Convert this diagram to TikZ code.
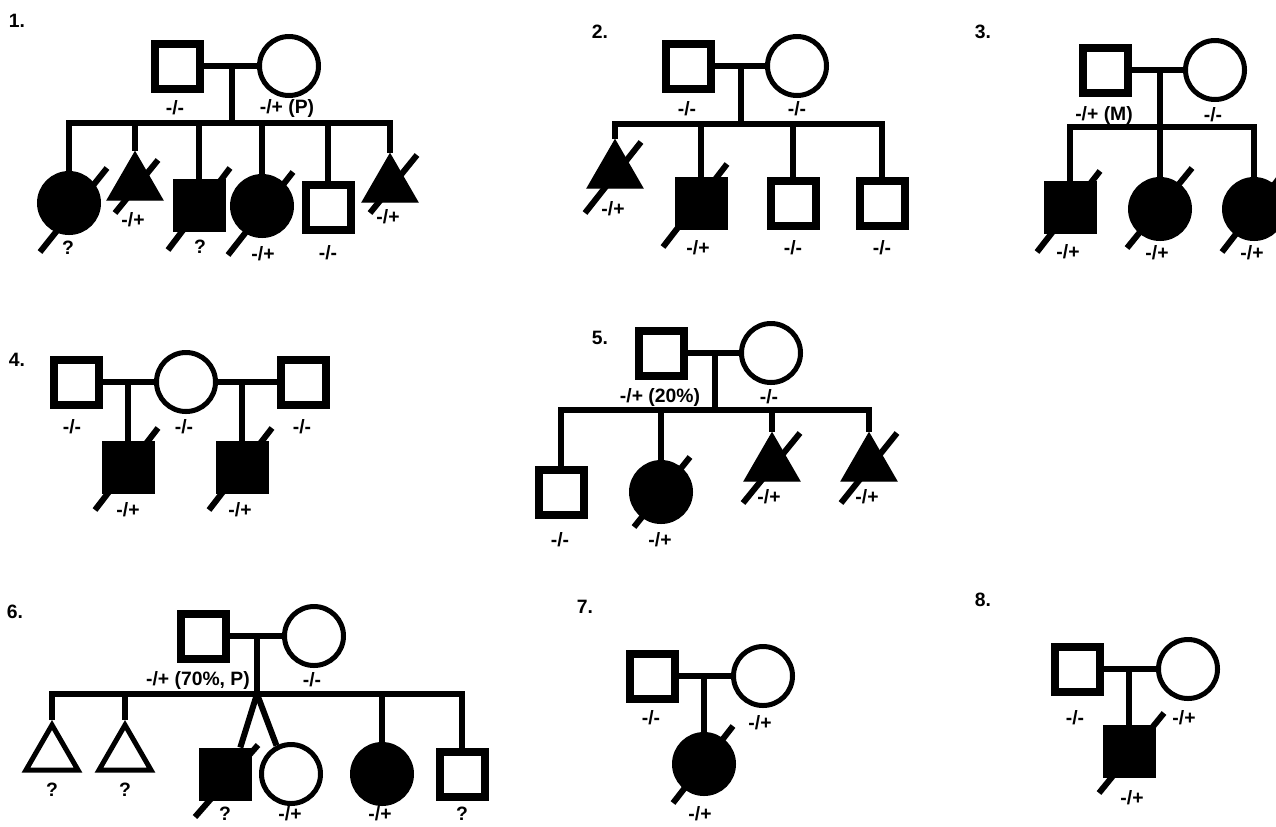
\documentclass[tikz,border=0pt]{standalone}
\usepackage{fontspec}
\setmainfont{Liberation Sans}
\usetikzlibrary{shapes.geometric}

\begin{document}
\begin{tikzpicture}[x=0.75pt,y=-0.75pt,line width=4.5pt,
  ma/.style={draw,rectangle,line width=6pt,minimum size=33.75pt,inner sep=0pt},
  fe/.style={draw,circle,line width=3.75pt,minimum size=44.25pt,inner sep=0pt},
  un/.style={draw,regular polygon,regular polygon sides=3,minimum size=48pt,inner sep=0pt,line width=1pt},
  unopen/.style={draw,regular polygon,regular polygon sides=3,minimum size=45pt,inner sep=0pt,line width=3.75pt},
  aff/.style={fill=black},
  gt/.style={font=\bfseries\fontsize{14.5}{16}\selectfont,inner sep=0pt},
  sl/.style={line width=4.5pt}]
\useasboundingbox (0,0) rectangle (1276,826);

\node (n1) at (17,21) [gt] {1.};
\node (f1) at (177,66) [ma] {};
\node (m1) at (289,66) [fe] {};
\coordinate (u1) at (232,66);
\coordinate (j1) at (232,123);
\draw (f1) -- (m1);
\draw (u1) -- (j1);
\node (c11) at (69,203) [fe,aff] {};
\node (c12) at (135,184) [un,aff] {};
\node (c13) at (199,205) [ma,aff] {};
\node (c14) at (262,206) [fe,aff] {};
\node (c15) at (328,207) [ma] {};
\node (c16) at (390,186) [un,aff] {};
\draw (c11) |- (j1) -| (c16);
\draw (c12 |- j1) -- (c12);
\draw (c13 |- j1) -- (c13);
\draw (c14 |- j1) -- (c14);
\draw (c15 |- j1) -- (c15);
\draw[sl] ([shift={(-29,49)}]c11.center) -- ([shift={(38,-35)}]c11.center);
\draw[sl] ([shift={(-20,29)}]c12.center) -- ([shift={(23,-24)}]c12.center);
\draw[sl] ([shift={(-31,45)}]c13.center) -- ([shift={(31,-37)}]c13.center);
\draw[sl] ([shift={(-34,49)}]c14.center) -- ([shift={(31,-34)}]c14.center);
\draw[sl] ([shift={(-20,27)}]c16.center) -- ([shift={(27,-31)}]c16.center);
\node (g1f) at (175,108) [gt] {-/-};
\node (g1m) at (287,108) [gt] {-/+ (P)};
\node (g11) at (68,248) [gt] {?};
\node (g12) at (133,220) [gt] {-/+};
\node (g13) at (200,247) [gt] {?};
\node (g14) at (263,254) [gt] {-/+};
\node (g15) at (328,253) [gt] {-/-};
\node (g16) at (388,217) [gt] {-/+};

\node (n2) at (600,32) [gt] {2.};
\node (f2) at (688,66) [ma] {};
\node (m2) at (797,66) [fe] {};
\coordinate (u2) at (741,66);
\coordinate (j2) at (741,124);
\draw (f2) -- (m2);
\draw (u2) -- (j2);
\node (c21) at (615,172) [un,aff] {};
\node (c22) at (701,203) [ma,aff] {};
\node (c23) at (793,203) [ma] {};
\node (c24) at (882,203) [ma] {};
\draw (c21) |- (j2) -| (c24);
\draw (c22 |- j2) -- (c22);
\draw (c23 |- j2) -- (c23);
\draw[sl] ([shift={(-30,41)}]c21.center) -- ([shift={(26,-30)}]c21.center);
\draw[sl] ([shift={(-38,44)}]c22.center) -- ([shift={(26,-39)}]c22.center);
\node (g2f) at (687,109) [gt] {-/-};
\node (g2m) at (797,109) [gt] {-/-};
\node (g21) at (613,209) [gt] {-/+};
\node (g22) at (698,248) [gt] {-/+};
\node (g23) at (793,248) [gt] {-/-};
\node (g24) at (882,248) [gt] {-/-};

\node (n3) at (983,32) [gt] {3.};
\node (f3) at (1105,70) [ma] {};
\node (m3) at (1215,70) [fe] {};
\coordinate (u3) at (1160,70);
\coordinate (j3) at (1160,127);
\draw (f3) -- (m3);
\draw (u3) -- (j3);
\node (c31) at (1070,207) [ma,aff] {};
\node (c32) at (1160,209) [fe,aff] {};
\node (c33) at (1254,209) [fe,aff] {};
\draw (c31) |- (j3) -| (c33);
\draw (c32 |- j3) -- (c32);
\draw[sl] ([shift={(-33,45)}]c31.center) -- ([shift={(30,-36)}]c31.center);
\draw[sl] ([shift={(-33,39)}]c32.center) -- ([shift={(32,-41)}]c32.center);
\draw[sl] ([shift={(-32,43)}]c33.center) -- ([shift={(33,-41)}]c33.center);
\node (g3f) at (1104,115) [gt] {-/+ (M)};
\node (g3m) at (1213,115) [gt] {-/-};
\node (g31) at (1068,252) [gt] {-/+};
\node (g32) at (1157,253) [gt] {-/+};
\node (g33) at (1252,253) [gt] {-/+};

\node (n4) at (17,360) [gt] {4.};
\node (f4) at (76,382) [ma] {};
\node (m4) at (186,382) [fe] {};
\node (h4) at (303,382) [ma] {};
\coordinate (u4) at (128,382);
\coordinate (v4) at (242,382);
\draw (f4) -- (m4) -- (h4);
\node (c41) at (128,467) [ma,aff] {};
\node (c42) at (242,467) [ma,aff] {};
\draw (u4) -- (c41);
\draw (v4) -- (c42);
\draw[sl] ([shift={(-33,43)}]c41.center) -- ([shift={(30,-39)}]c41.center);
\draw[sl] ([shift={(-33,43)}]c42.center) -- ([shift={(30,-39)}]c42.center);
\node (g4f) at (72,427) [gt] {-/-};
\node (g4m) at (184,427) [gt] {-/-};
\node (g4h) at (302,427) [gt] {-/-};
\node (g41) at (128,510) [gt] {-/+};
\node (g42) at (240,510) [gt] {-/+};

\node (n5) at (600,338) [gt] {5.};
\node (f5) at (661,353) [ma] {};
\node (m5) at (771,353) [fe] {};
\coordinate (u5) at (715,353);
\coordinate (j5) at (715,410);
\draw (f5) -- (m5);
\draw (u5) -- (j5);
\node (c51) at (561,492) [ma] {};
\node (c52) at (661,492) [fe,aff] {};
\node (c53) at (772,465) [un,aff] {};
\node (c54) at (869,465) [un,aff] {};
\draw (c51) |- (j5) -| (c54);
\draw (c52 |- j5) -- (c52);
\draw (c53 |- j5) -- (c53);
\draw[sl] ([shift={(-27,35)}]c52.center) -- ([shift={(29,-35)}]c52.center);
\draw[sl] ([shift={(-29,38)}]c53.center) -- ([shift={(28,-32)}]c53.center);
\draw[sl] ([shift={(-28,38)}]c54.center) -- ([shift={(28,-32)}]c54.center);
\node (g5f) at (660,397) [gt] {-/+ (20\%)};
\node (g5m) at (769,397) [gt] {-/-};
\node (g51) at (560,540) [gt] {-/-};
\node (g52) at (660,540) [gt] {-/+};
\node (g53) at (769,497) [gt] {-/+};
\node (g54) at (867,497) [gt] {-/+};

\node (n6) at (15,612) [gt] {6.};
\node (f6) at (203,636) [ma] {};
\node (m6) at (314,636) [fe] {};
\coordinate (u6) at (257,636);
\coordinate (j6) at (257,694);
\draw (f6) -- (m6);
\draw (u6) -- (j6);
\node (c61) at (52,755) [unopen] {};
\node (c62) at (125,755) [unopen] {};
\node (c63) at (225,774) [ma,aff] {};
\node (c64) at (291,774) [fe] {};
\node (c65) at (382,774) [fe,aff] {};
\node (c66) at (462,774) [ma] {};
\draw (c61) |- (j6) -| (c66);
\draw (c62 |- j6) -- (c62);
\draw (c65 |- j6) -- (c65);
\draw (j6) -- (c63.60);
\draw (j6) -- (c64.117);
\draw[sl] ([shift={(-30,43)}]c63.center) -- ([shift={(33,-29)}]c63.center);
\node (g6f) at (198,680) [gt] {-/+ (70\%, P)};
\node (g6m) at (312,680) [gt] {-/-};
\node (g61) at (52,790) [gt] {?};
\node (g62) at (125,790) [gt] {?};
\node (g63) at (225,814) [gt] {?};
\node (g64) at (290,814) [gt] {-/+};
\node (g65) at (380,814) [gt] {-/+};
\node (g66) at (462,814) [gt] {?};

\node (n7) at (585,607) [gt] {7.};
\node (f7) at (652,676) [ma] {};
\node (m7) at (763,676) [fe] {};
\coordinate (u7) at (704,676);
\draw (f7) -- (m7);
\node (c71) at (704,764) [fe,aff] {};
\draw (u7) -- (c71);
\draw[sl] ([shift={(-31,39)}]c71.center) -- ([shift={(29,-38)}]c71.center);
\node (g7f) at (651,718) [gt] {-/-};
\node (g7m) at (760,723) [gt] {-/+};
\node (g71) at (700,814) [gt] {-/+};

\node (n8) at (983,600) [gt] {8.};
\node (f8) at (1077,669) [ma] {};
\node (m8) at (1188,669) [fe] {};
\coordinate (u8) at (1129,669);
\draw (f8) -- (m8);
\node (c81) at (1129,751) [ma,aff] {};
\draw (u8) -- (c81);
\draw[sl] ([shift={(-30,42)}]c81.center) -- ([shift={(35,-38)}]c81.center);
\node (g8f) at (1075,718) [gt] {-/-};
\node (g8m) at (1184,718) [gt] {-/+};
\node (g81) at (1132,798) [gt] {-/+};
\end{tikzpicture}
\end{document}
